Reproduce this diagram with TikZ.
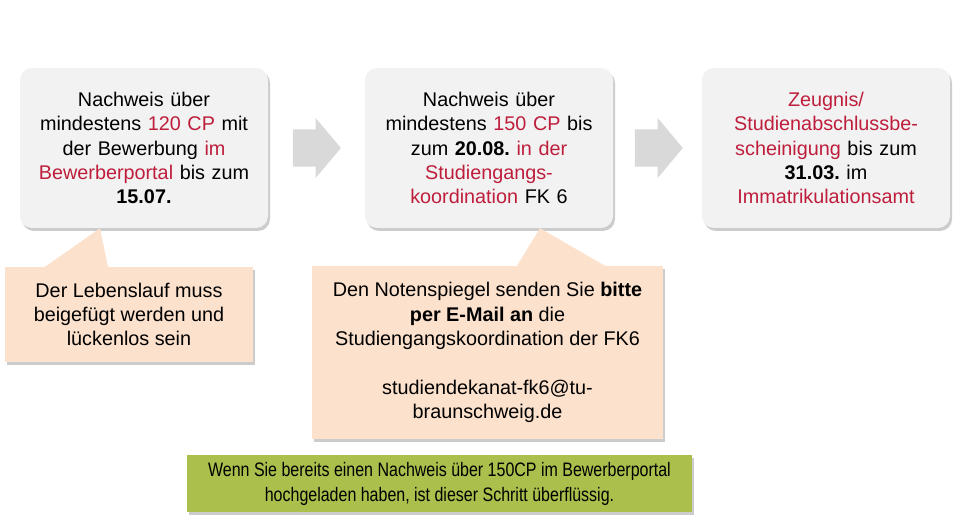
\documentclass[tikz,border=0pt]{standalone}
\usepackage{fontspec}
\setmainfont{Liberation Sans}
\newfontfamily\narrowfont[FakeStretch=0.82]{Liberation Sans}
\usetikzlibrary{shapes.arrows,shadows}
\definecolor{boxgray}{HTML}{F2F2F2}
\definecolor{arrowgray}{HTML}{D9D9D9}
\definecolor{peach}{HTML}{FCE1CC}
\definecolor{leaf}{HTML}{AABF4C}
\definecolor{tured}{HTML}{BE1E3C}
\newcommand{\hl}[1]{\textcolor{tured}{#1}}
\frenchspacing
\tikzset{
  softshadow/.style={drop shadow={shadow xshift=2pt, shadow yshift=-3pt, opacity=0.4}},
  stepbox/.style={rectangle, rounded corners=12pt, fill=boxgray, softshadow,
    minimum width=248pt, minimum height=160pt, text width=240pt, align=center,
    font=\fontsize{19.8}{24.3}\selectfont},
  notebox/.style={rectangle, fill=peach, softshadow, align=center,
    font=\fontsize{19.8}{24.3}\selectfont},
  hintbox/.style={rectangle, fill=leaf, softshadow, align=center,
    minimum width=505pt, minimum height=57pt,
    font=\narrowfont\fontsize{19.5}{25}\selectfont},
  flowarrow/.style={single arrow, fill=arrowgray, inner xsep=0pt, inner ysep=18.5pt,
    minimum height=48pt, single arrow head extend=11.5pt, single arrow tip angle=100}
}
\begin{document}
\begin{tikzpicture}[x=1pt,y=-1pt]
  \useasboundingbox (0,0) rectangle (960,529);
  % Steps
  \node[stepbox] (step1) at (144,148) {Nachweis über\\mindestens \hl{120 CP} mit\\der Bewerbung \hl{im}\\\hl{Bewerberportal} bis zum\\\textbf{15.07.}};
  \node[stepbox] (step2) at (489,148) {Nachweis über\\mindestens \hl{150 CP} bis\\zum \textbf{20.08.} \hl{in der}\\\hl{Studiengangs-}\\\hl{koordination} FK 6};
  \node[stepbox] (step3) at (826,148) {\hl{Zeugnis/}\\\hl{Studienabschlussbe-}\\\hl{scheinigung} bis zum\\\textbf{31.03.} im\\\hl{Immatrikulationsamt}};
  % Arrows between steps
  \node[flowarrow] (arr1) at (309,148) {};
  \node[flowarrow] (arr2) at (651,148) {};
  % Notes
  \node[notebox, minimum width=248pt, minimum height=95pt] (note1) at (129,314.5) {Der Lebenslauf muss\\beigefügt werden und\\lückenlos sein};
  \fill[peach] ([xshift=-44pt]step1.south) -- ([xshift=-84pt]note1.north) -- ([xshift=-21pt]note1.north) -- cycle;
  \node[notebox, minimum width=351pt, minimum height=173pt] (note2) at (487.5,352.5) {Den Notenspiegel senden Sie \textbf{bitte}\\\textbf{per E-Mail an} die\\Studiengangskoordination der FK6\\[24.3pt]studiendekanat-fk6@tu-\\braunschweig.de};
  \fill[peach] ([xshift=51pt]step2.south) -- ([xshift=29.5pt]note2.north) -- ([xshift=117.5pt]note2.north) -- cycle;
  % Hint
  \node[hintbox] (hint) at (439.5,483.5) {Wenn Sie bereits einen Nachweis über 150CP im Bewerberportal\\hochgeladen haben, ist dieser Schritt überflüssig.};
\end{tikzpicture}
\end{document}
